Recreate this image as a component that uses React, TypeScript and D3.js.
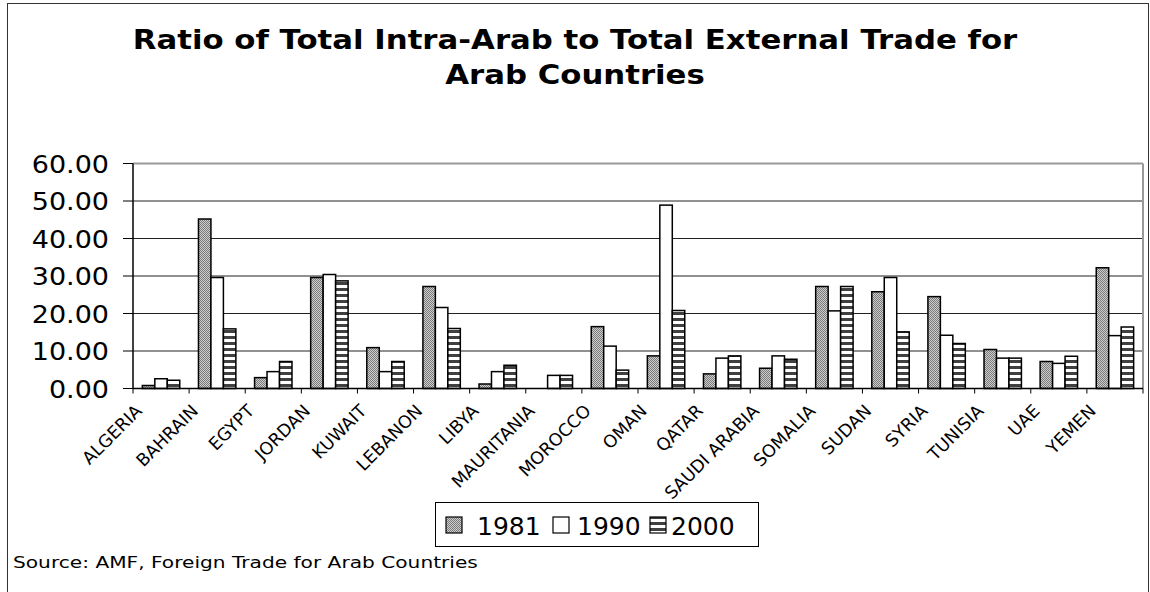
import React from "react";
import * as d3 from "d3";

// Countries on the category axis
const countries = [
  "ALGERIA", "BAHRAIN", "EGYPT", "JORDAN", "KUWAIT", "LEBANON", "LIBYA",
  "MAURITANIA", "MOROCCO", "OMAN", "QATAR", "SAUDI ARABIA", "SOMALIA",
  "SUDAN", "SYRIA", "TUNISIA", "UAE", "YEMEN",
];

// Ratio (%) of intra-Arab to external trade, per year
const years = ["1981", "1990", "2000"];
const v1981 = [0.8, 45.2, 2.9, 29.6, 10.9, 27.2, 1.2, 0, 16.5, 8.7, 3.9, 5.4, 27.2, 25.8, 24.5, 10.4, 7.2, 32.2];
const v1990 = [2.6, 29.6, 4.5, 30.4, 4.5, 21.6, 4.5, 3.5, 11.3, 48.9, 8.1, 8.7, 20.7, 29.6, 14.2, 8.1, 6.7, 14.1];
const v2000 = [2.2, 15.9, 7.2, 28.7, 7.2, 16.0, 6.2, 3.5, 4.9, 20.8, 8.7, 7.8, 27.2, 15.1, 12.0, 8.1, 8.6, 16.4];
const yTicks = [0, 10, 20, 30, 40, 50, 60];

const titleLines = ["Ratio of Total Intra-Arab to Total External Trade for", "Arab Countries"];
const sourceText = "Source: AMF, Foreign Trade for Arab Countries";

const W = 1150;
const H = 592;
const plot = { left: 133, right: 1143, top: 163.5, bottom: 388.5 };
const FONT = "'DejaVu Sans', Verdana, sans-serif";

const fills: Record<string, string> = {
  "1981": "url(#stipple)",
  "1990": "#ffffff",
  "2000": "url(#stripes)",
};

export default function App() {
  const series = [v1981, v1990, v2000];

  const x = d3.scaleBand<string>().domain(countries).range([plot.left, plot.right]).padding(0);
  // 150% gap between groups: 0.75 bar of outer padding on each side
  const xs = d3.scaleBand<string>().domain(years).range([0, x.step()]).paddingInner(0).paddingOuter(0.75);
  const y = d3.scaleLinear().domain([0, 60]).range([plot.bottom, plot.top]);

  const bars: React.ReactNode[] = [];
  countries.forEach((c, i) => {
    years.forEach((yr, j) => {
      const v = series[j][i];
      if (v <= 0) return;
      const x0 = (x(c) as number) + (xs(yr) as number);
      bars.push(
        <rect
          key={`${c}-${yr}`}
          x={x0}
          y={y(v)}
          width={xs.bandwidth()}
          height={y(0) - y(v)}
          fill={fills[yr]}
          stroke="#000"
          strokeWidth={1.5}
        />
      );
    });
  });

  const boundaries = d3.range(countries.length + 1).map((k) => plot.left + k * x.step());

  const legendItems = [
    { yr: "1981", sx: 446, tx: 477 },
    { yr: "1990", sx: 553, tx: 577 },
    { yr: "2000", sx: 650, tx: 671 },
  ];

  return (
    <svg
      width={W}
      height={H}
      style={{ position: "absolute", left: 0, top: 0, background: "#fff" }}
      fontFamily={FONT}
    >
      <defs>
        <pattern id="stipple" width={2} height={2} patternUnits="userSpaceOnUse">
          <rect width={2} height={2} fill="#cdcdcd" />
          <rect width={1} height={1} fill="#7a7a7a" />
          <rect x={1} y={1} width={1} height={1} fill="#7a7a7a" />
        </pattern>
        <pattern id="stripes" width={6} height={6} patternUnits="userSpaceOnUse">
          <rect width={6} height={6} fill="#ffffff" />
          <rect width={6} height={3} fill="#404040" />
        </pattern>
      </defs>

      {/* chart frame */}
      <rect x={7.5} y={3.5} width={1141} height={600} fill="#fff" stroke="#333" strokeWidth={1} />

      {/* title */}
      {titleLines.map((t, i) => (
        <text
          key={t}
          transform={`translate(575, ${49 + i * 35}) scale(1.14, 1)`}
          textAnchor="middle"
          fontSize={27}
          fontWeight="bold"
          fill="#000"
        >
          {t}
        </text>
      ))}

      {/* gridlines */}
      {yTicks.filter((t) => t > 0 && t < 60).map((t) => (
        <line key={t} x1={plot.left} x2={plot.right} y1={y(t)} y2={y(t)} stroke="#222" strokeWidth={1} />
      ))}
      {/* plot area border (top / right) */}
      <line x1={plot.left} x2={plot.right} y1={y(60)} y2={y(60)} stroke="#999" strokeWidth={2} />
      <line x1={plot.right} x2={plot.right} y1={plot.top} y2={plot.bottom} stroke="#999" strokeWidth={2} />

      {/* bars */}
      {bars}

      {/* y axis */}
      <line x1={plot.left} x2={plot.left} y1={plot.top} y2={plot.bottom} stroke="#000" strokeWidth={1.5} />
      {yTicks.map((t) => (
        <g key={t}>
          <line x1={plot.left - 10} x2={plot.left} y1={y(t)} y2={y(t)} stroke="#000" strokeWidth={1} />
          <text
            transform={`translate(109, ${y(t) + 9}) scale(1.08, 1)`}
            textAnchor="end"
            fontSize={25}
            fill="#000"
          >
            {d3.format(".2f")(t)}
          </text>
        </g>
      ))}

      {/* x axis */}
      <line x1={plot.left} x2={plot.right} y1={plot.bottom} y2={plot.bottom} stroke="#000" strokeWidth={1.5} />
      {boundaries.map((bx, k) => (
        <line key={k} x1={bx} x2={bx} y1={plot.bottom} y2={plot.bottom + 5} stroke="#000" strokeWidth={1} />
      ))}
      {countries.map((c) => {
        const cx = (x(c) as number) + x.step() / 2;
        const px = cx - 18;
        const py = 412;
        return (
          <text
            key={c}
            x={px}
            y={py}
            textAnchor="end"
            fontSize={17.5}
            fill="#000"
            transform={`rotate(-45, ${px}, ${py})`}
          >
            {c}
          </text>
        );
      })}

      {/* legend */}
      <rect x={435.5} y={502.5} width={323} height={44} fill="#fff" stroke="#000" strokeWidth={1} />
      {legendItems.map((it) => (
        <g key={it.yr}>
          <rect x={it.sx} y={517} width={16} height={16} fill={fills[it.yr]} stroke="#000" strokeWidth={1.2} />
          <text x={it.tx} y={535} fontSize={25} fill="#000">
            {it.yr}
          </text>
        </g>
      ))}

      {/* source note */}
      <text transform="translate(13, 568) scale(1.26, 1)" fontSize={16} fill="#000">
        {sourceText}
      </text>
    </svg>
  );
}
